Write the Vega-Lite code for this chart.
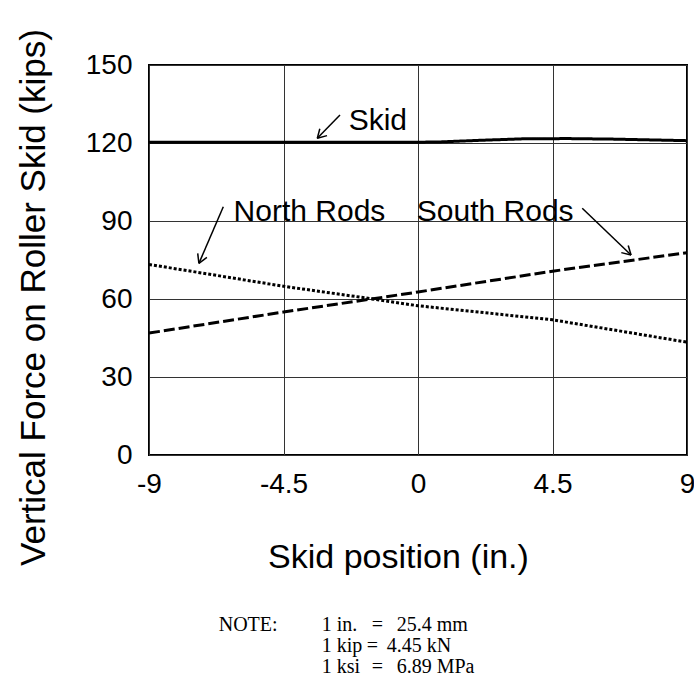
{
  "$schema": "https://vega.github.io/schema/vega-lite/v6.json",
  "autosize": {"type": "none"},
  "padding": {"left": 149, "top": 65, "right": 7, "bottom": 222},
  "width": 538,
  "height": 390,
  "background": "white",
  "config": {
    "view": {"stroke": "black", "strokeWidth": 2},
    "font": "Liberation Sans",
    "axis": {
      "grid": true,
      "gridColor": "#333",
      "gridWidth": 1,
      "domain": false,
      "ticks": false,
      "labelFont": "Liberation Sans",
      "labelFontSize": 28,
      "labelColor": "black",
      "titleFont": "Liberation Sans",
      "titleColor": "black",
      "titleFontWeight": "normal"
    }
  },
  "datasets": {
    "series": [
      {"pos": -9, "force": 120.3, "series": "Skid"},
      {"pos": -4.5, "force": 120.3, "series": "Skid"},
      {"pos": 0, "force": 120.3, "series": "Skid"},
      {"pos": 0.7, "force": 120.4, "series": "Skid"},
      {"pos": 2, "force": 121.0, "series": "Skid"},
      {"pos": 3.5, "force": 121.6, "series": "Skid"},
      {"pos": 5, "force": 121.7, "series": "Skid"},
      {"pos": 6.5, "force": 121.5, "series": "Skid"},
      {"pos": 9, "force": 120.9, "series": "Skid"},
      {"pos": -9, "force": 73.3, "series": "North Rods"},
      {"pos": -4.5, "force": 64.9, "series": "North Rods"},
      {"pos": -1.5, "force": 60.0, "series": "North Rods"},
      {"pos": 0, "force": 57.4, "series": "North Rods"},
      {"pos": 4.5, "force": 52.0, "series": "North Rods"},
      {"pos": 9, "force": 43.4, "series": "North Rods"},
      {"pos": -9, "force": 46.9, "series": "South Rods"},
      {"pos": -4.5, "force": 55.0, "series": "South Rods"},
      {"pos": -1.5, "force": 60.1, "series": "South Rods"},
      {"pos": 0, "force": 62.7, "series": "South Rods"},
      {"pos": 4.5, "force": 70.7, "series": "South Rods"},
      {"pos": 9, "force": 77.8, "series": "South Rods"}
    ],
    "labels": [
      {"pos": -2.32, "force": 125, "text": "Skid"},
      {"pos": -6.17, "force": 90, "text": "North Rods"},
      {"pos": -0.04, "force": 90, "text": "South Rods"}
    ],
    "arrows": [
      {"x1": -2.61, "y1": 130.8, "x2": -3.37, "y2": 121.8},
      {"x1": -3.37, "y1": 121.8, "x2": -3.044, "y2": 122.84},
      {"x1": -3.37, "y1": 121.8, "x2": -3.285, "y2": 125.5},
      {"x1": -6.514, "y1": 95.5, "x2": -7.33, "y2": 73.7},
      {"x1": -7.33, "y1": 73.7, "x2": -7.063, "y2": 76.03},
      {"x1": -7.33, "y1": 73.7, "x2": -7.37, "y2": 77.54},
      {"x1": 5.495, "y1": 94.9, "x2": 7.128, "y2": 76.9},
      {"x1": 7.128, "y1": 76.9, "x2": 7.034, "y2": 80.6},
      {"x1": 7.128, "y1": 76.9, "x2": 6.803, "y2": 77.84}
    ],
    "note": [
      {"pos": -6.668, "force": -67.7, "text": "NOTE:"},
      {"pos": -3.221, "force": -67.7, "text": "1 in."},
      {"pos": -1.548, "force": -67.7, "text": "="},
      {"pos": -0.713, "force": -67.7, "text": "25.4 mm"},
      {"pos": -3.221, "force": -75.8, "text": "1 kip"},
      {"pos": -1.716, "force": -75.8, "text": "="},
      {"pos": -1.045, "force": -75.8, "text": "4.45 kN"},
      {"pos": -3.221, "force": -83.9, "text": "1 ksi"},
      {"pos": -1.548, "force": -83.9, "text": "="},
      {"pos": -0.713, "force": -83.9, "text": "6.89 MPa"}
    ]
  },
  "layer": [
    {
      "data": {"name": "series"},
      "mark": {"type": "line", "color": "black", "strokeWidth": 3},
      "encoding": {
        "x": {
          "field": "pos", "type": "quantitative",
          "scale": {"domain": [-9, 9], "nice": false, "zero": false},
          "axis": {
            "values": [-9, -4.5, 0, 4.5, 9],
            "labelExpr": "toString(datum.value)",
            "labelPadding": 15,
            "labelFlush": false,
            "title": "Skid position (in.)",
            "titleFontSize": 34,
            "titleX": 249,
            "titleY": 112,
            "titleBaseline": "alphabetic",
            "titleAlign": "center"
          }
        },
        "y": {
          "field": "force", "type": "quantitative",
          "scale": {"domain": [0, 150], "nice": false},
          "axis": {
            "values": [0, 30, 60, 90, 120, 150],
            "labelPadding": 17,
            "labelFlush": false,
            "title": "Vertical Force on Roller Skid (kips)",
            "titleFontSize": 35,
            "titleAngle": 270,
            "titleX": -105,
            "titleY": 232,
            "titleAlign": "center",
            "titleBaseline": "alphabetic"
          }
        },
        "detail": {"field": "series"},
        "strokeDash": {
          "field": "series", "type": "nominal",
          "scale": {"domain": ["Skid", "North Rods", "South Rods"], "range": [[1, 0], [3, 2], [11, 4]]},
          "legend": null
        }
      }
    },
    {
      "data": {"name": "labels"},
      "mark": {"type": "text", "align": "left", "baseline": "alphabetic", "fontSize": 30, "font": "Liberation Sans", "color": "black"},
      "encoding": {
        "x": {"field": "pos", "type": "quantitative"},
        "y": {"field": "force", "type": "quantitative"},
        "text": {"field": "text"}
      }
    },
    {
      "data": {"name": "arrows"},
      "mark": {"type": "rule", "color": "black", "strokeWidth": 1.5},
      "encoding": {
        "x": {"field": "x1", "type": "quantitative"},
        "y": {"field": "y1", "type": "quantitative"},
        "x2": {"field": "x2"},
        "y2": {"field": "y2"}
      }
    },
    {
      "data": {"name": "note"},
      "mark": {"type": "text", "align": "left", "baseline": "alphabetic", "fontSize": 20, "font": "Liberation Serif", "color": "black"},
      "encoding": {
        "x": {"field": "pos", "type": "quantitative"},
        "y": {"field": "force", "type": "quantitative"},
        "text": {"field": "text"}
      }
    }
  ]
}
